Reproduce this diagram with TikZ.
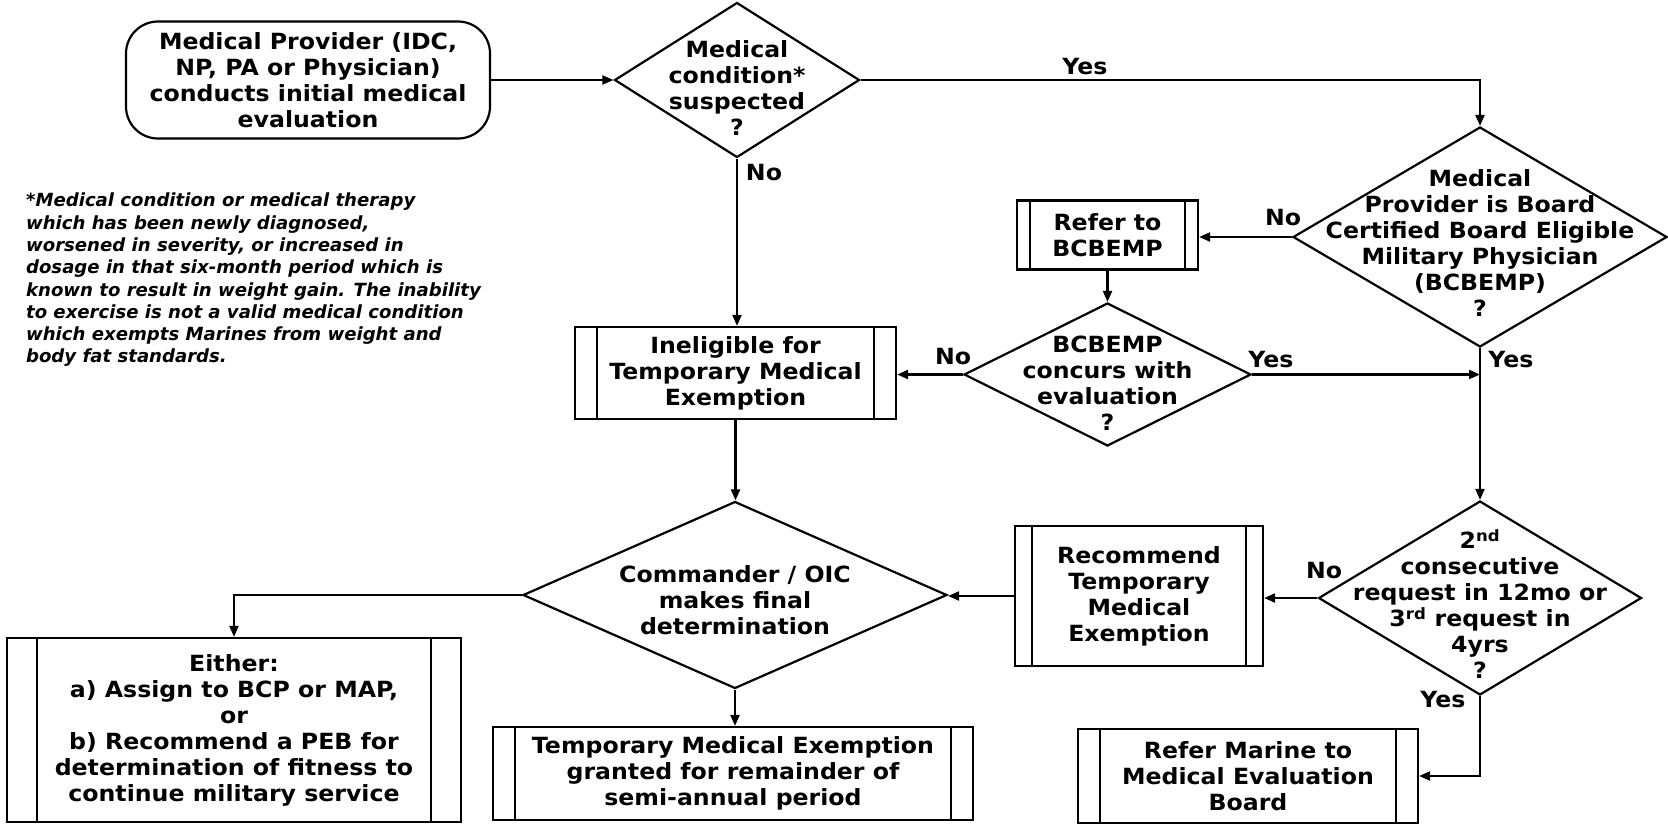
\documentclass[tikz,border=0pt]{standalone}
\usepackage{fontspec}
\usetikzlibrary{shapes.geometric,arrows.meta,calc}
\newfontfamily\boxfont{DejaVu Sans Bold}[FakeStretch=1.06]
\newfontfamily\notefont{DejaVu Sans Bold Oblique}
\begin{document}
\begin{tikzpicture}[x=1pt,y=-1pt,line width=2.2pt,line join=miter]
\tikzset{
  txt/.style={font=\boxfont\fontsize{22.3}{26}\selectfont, align=center},
  term/.style={draw, rounded corners=32pt, minimum width=364pt, minimum height=117pt, inner sep=0pt, txt},
  decision/.style 2 args={diamond, draw, inner sep=0pt, minimum width=#1pt, minimum height=#2pt},
  dtext/.style={txt, inner sep=0pt},
  proc/.style n args={3}{draw, inner sep=0pt, txt, minimum width=#1pt, minimum height=#2pt,
    path picture={
      \draw ([xshift=#3pt]path picture bounding box.north west) -- ([xshift=#3pt]path picture bounding box.south west);
      \draw ([xshift=-#3pt]path picture bounding box.north east) -- ([xshift=-#3pt]path picture bounding box.south east);
    }},
  flow/.style={-{Triangle[length=11pt,width=9pt]}},
  lbl/.style={txt, inner sep=0pt},
  note/.style={font=\notefont\fontsize{18.1}{22.3}\selectfont, align=left, inner sep=0pt},
}
\fill[white] (0,0) rectangle (1668,825);
\useasboundingbox (0,0) rectangle (1668,825);

% start of the process
\node[term] (start) at (308,80) {Medical Provider (IDC,\\NP, PA or Physician)\\conducts initial medical\\evaluation};

% decisions
\node[decision={245}{155}, label={[dtext,name=d1t,yshift=-8pt]center:{Medical\\condition*\\suspected\\?}}] (d1) at (737,80) {};
\node[decision={374}{220}, label={[dtext,name=d2t,yshift=-6pt]center:{Medical\\Provider is Board\\Certified Board Eligible\\Military Physician\\(BCBEMP)\\?}}] (d2) at (1480,237) {};
\node[decision={287}{143}, label={[dtext,name=d3t,yshift=-9pt]center:{BCBEMP\\concurs with\\evaluation\\?}}] (d3) at (1107.5,374.5) {};
\node[decision={323}{194}, label={[dtext,name=d4t,yshift=-6pt]center:{2\textsuperscript{nd}\\consecutive\\request in 12mo or\\3\textsuperscript{rd} request in\\4yrs\\?}}] (d4) at (1480,598) {};
\node[decision={424}{187}, label={[dtext,name=d5t,yshift=-5pt]center:{Commander / OIC\\makes final\\determination}}] (d5) at (735,595) {};

% process boxes
\node[proc={181}{69}{13}] (refer) at (1107.5,235) {Refer to\\BCBEMP};
\node[proc={321}{92}{22}] (inel) at (735.5,373) {Ineligible for\\Temporary Medical\\Exemption};
\node[proc={248}{140}{17}] (recom) at (1139,596) {Recommend\\Temporary\\Medical\\Exemption};
\node[proc={454}{184}{30}] (either) at (234,730) {Either:\\a) Assign to BCP or MAP,\\or\\b) Recommend a PEB for\\determination of fitness to\\continue military service};
\node[proc={480}{93}{22}] (tme) at (733,773.5) {Temporary Medical Exemption\\granted for remainder of\\semi-annual period};
\node[proc={340}{94}{22}] (meb) at (1248,776) {Refer Marine to\\Medical Evaluation\\Board};

% footnote
\node[note, anchor=north west] (fn) at (25,192) {*Medical condition or medical therapy\\which has been newly diagnosed,\\worsened in severity, or increased in\\dosage in that six-month period which is\\known to result in weight gain. The inability\\to exercise is not a valid medical condition\\which exempts Marines from weight and\\body fat standards.};

% branch labels
\node[lbl] (y1) at (1085,67) {Yes};
\node[lbl] (n1) at (764,173) {No};
\node[lbl] (n2) at (1283,218) {No};
\node[lbl] (n3) at (953,357) {No};
\node[lbl] (y3) at (1271,360) {Yes};
\node[lbl] (y2) at (1511,360) {Yes};
\node[lbl] (n4) at (1324,571) {No};
\node[lbl] (y4) at (1443,700) {Yes};

% connectors
\coordinate (j) at (d2.south |- d3.east);
\draw[flow] (start.east) -- (d1.west);
\draw[flow] (d1.east) -| (d2.north);
\draw[flow] (d1.south) -- (d1.south |- inel.north);
\draw[flow] (d2.west) -- (d2.west -| refer.east);
\draw[flow] (refer.south) -- (d3.north);
\draw[flow] (d3.west) -- (d3.west -| inel.east);
\draw[flow] (d3.east) -- (j);
\draw[flow] (d2.south) -- (d4.north);
\draw[flow] (d4.west) -- (d4.west -| recom.east);
\draw[flow] (recom.west) -- (recom.west -| d5.east);
\draw[flow] (inel.south) -- (inel.south |- d5.north);
\draw[flow] (d5.west) -| (either.north);
\draw[flow] (d5.south) -- (d5.south |- tme.north);
\draw[flow] (d4.south) |- (meb.east);
\end{tikzpicture}
\end{document}
